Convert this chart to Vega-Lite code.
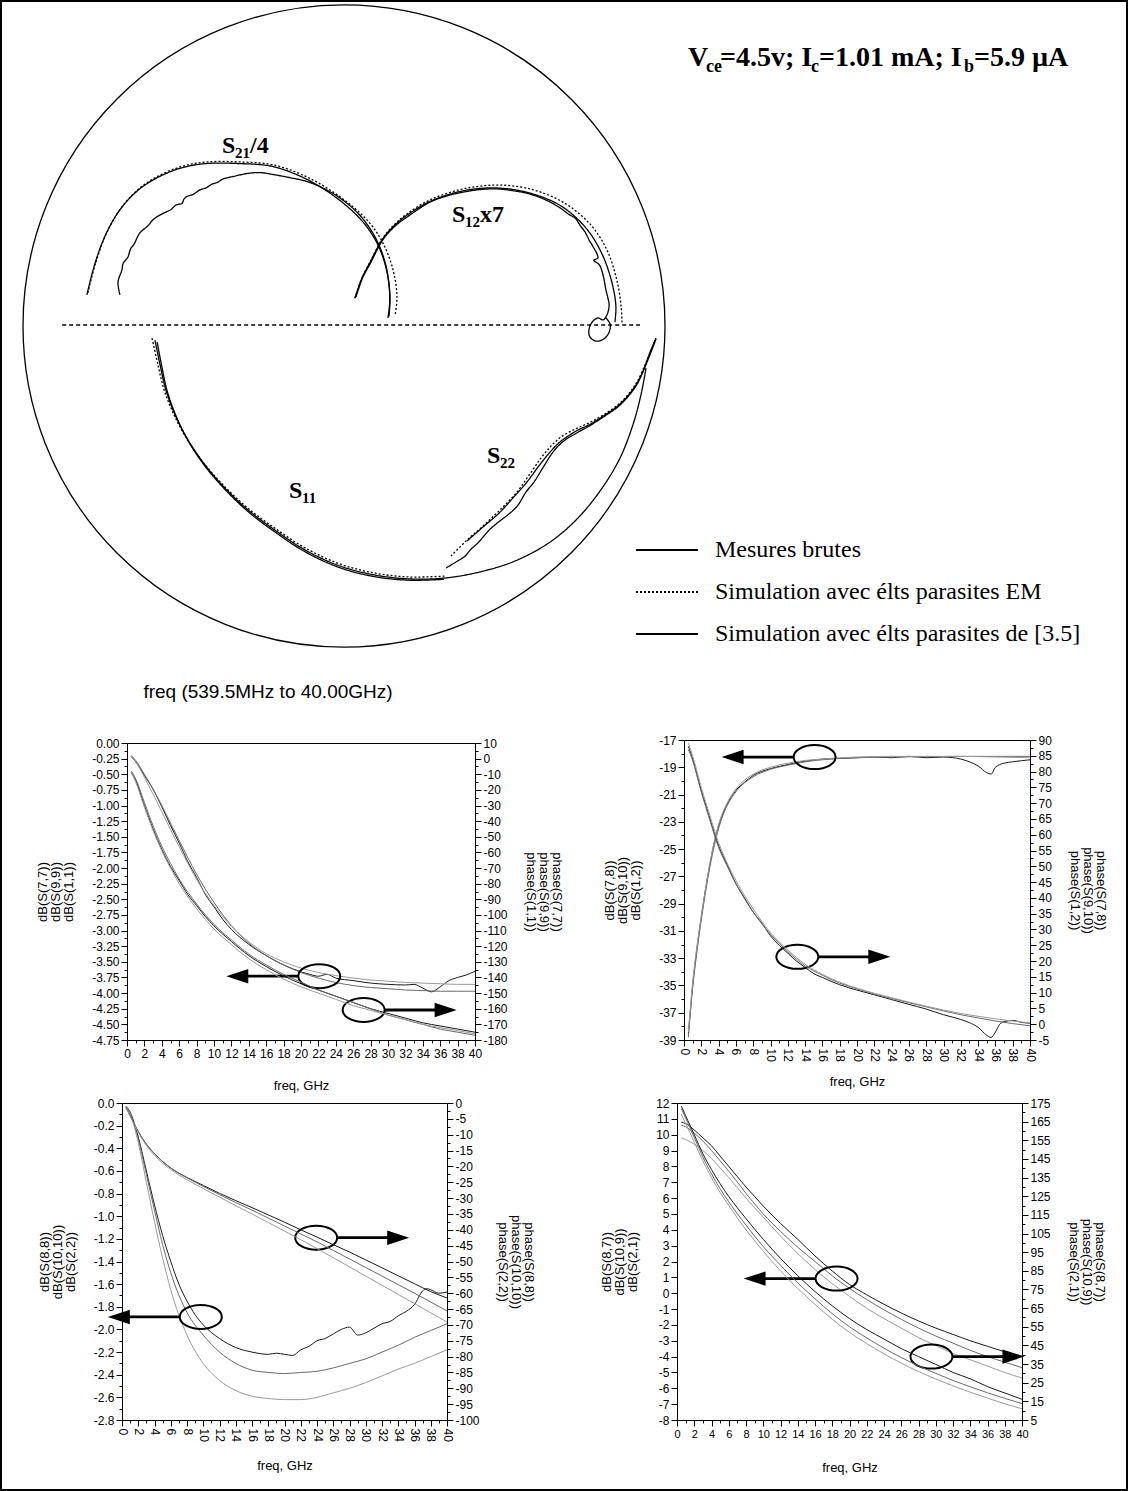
{
  "$schema": "https://vega.github.io/schema/vega-lite/v6.json",
  "width": 1128,
  "height": 1491,
  "autosize": {"type": "none"},
  "padding": 0,
  "background": "white",
  "datasets": {
    "smith": [
      {"p":"S21","t":"em","i":0,"u":-0.798,"v":0.103},{"p":"S21","t":"em","i":1,"u":-0.773,"v":0.199},{"p":"S21","t":"em","i":2,"u":-0.738,"v":0.293},{"p":"S21","t":"em","i":3,"u":-0.692,"v":0.371},{"p":"S21","t":"em","i":4,"u":-0.636,"v":0.43},{"p":"S21","t":"em","i":5,"u":-0.573,"v":0.47},{"p":"S21","t":"em","i":6,"u":-0.502,"v":0.498},{"p":"S21","t":"em","i":7,"u":-0.427,"v":0.511},{"p":"S21","t":"em","i":8,"u":-0.324,"v":0.511},{"p":"S21","t":"em","i":9,"u":-0.221,"v":0.502},{"p":"S21","t":"em","i":10,"u":-0.115,"v":0.464},{"p":"S21","t":"em","i":11,"u":-0.012,"v":0.402},{"p":"S21","t":"em","i":12,"u":0.072,"v":0.33},{"p":"S21","t":"em","i":13,"u":0.121,"v":0.259},{"p":"S21","t":"em","i":14,"u":0.153,"v":0.174},{"p":"S21","t":"em","i":15,"u":0.165,"v":0.09},{"p":"S21","t":"em","i":16,"u":0.159,"v":0.034},
      {"p":"S21","t":"ref","i":0,"u":-0.801,"v":0.097},{"p":"S21","t":"ref","i":1,"u":-0.776,"v":0.194},{"p":"S21","t":"ref","i":2,"u":-0.741,"v":0.288},{"p":"S21","t":"ref","i":3,"u":-0.695,"v":0.366},{"p":"S21","t":"ref","i":4,"u":-0.639,"v":0.425},{"p":"S21","t":"ref","i":5,"u":-0.576,"v":0.465},{"p":"S21","t":"ref","i":6,"u":-0.505,"v":0.493},{"p":"S21","t":"ref","i":7,"u":-0.43,"v":0.506},{"p":"S21","t":"ref","i":8,"u":-0.326,"v":0.506},{"p":"S21","t":"ref","i":9,"u":-0.223,"v":0.497},{"p":"S21","t":"ref","i":10,"u":-0.118,"v":0.458},{"p":"S21","t":"ref","i":11,"u":-0.019,"v":0.396},{"p":"S21","t":"ref","i":12,"u":0.059,"v":0.324},{"p":"S21","t":"ref","i":13,"u":0.106,"v":0.252},{"p":"S21","t":"ref","i":14,"u":0.134,"v":0.168},{"p":"S21","t":"ref","i":15,"u":0.143,"v":0.087},{"p":"S21","t":"ref","i":16,"u":0.137,"v":0.025},
      {"p":"S21","t":"mes","i":0,"u":-0.698,"v":0.097},{"p":"S21","t":"mes","i":1,"u":-0.704,"v":0.137},{"p":"S21","t":"mes","i":2,"u":-0.692,"v":0.174},{"p":"S21","t":"mes","i":3,"u":-0.688,"v":0.195},{"p":"S21","t":"mes","i":4,"u":-0.673,"v":0.215},{"p":"S21","t":"mes","i":5,"u":-0.665,"v":0.24},{"p":"S21","t":"mes","i":6,"u":-0.654,"v":0.255},{"p":"S21","t":"mes","i":7,"u":-0.636,"v":0.29},{"p":"S21","t":"mes","i":8,"u":-0.611,"v":0.312},{"p":"S21","t":"mes","i":9,"u":-0.596,"v":0.33},{"p":"S21","t":"mes","i":10,"u":-0.583,"v":0.34},{"p":"S21","t":"mes","i":11,"u":-0.555,"v":0.355},{"p":"S21","t":"mes","i":12,"u":-0.54,"v":0.362},{"p":"S21","t":"mes","i":13,"u":-0.523,"v":0.377},{"p":"S21","t":"mes","i":14,"u":-0.505,"v":0.382},{"p":"S21","t":"mes","i":15,"u":-0.498,"v":0.396},{"p":"S21","t":"mes","i":16,"u":-0.486,"v":0.405},{"p":"S21","t":"mes","i":17,"u":-0.47,"v":0.41},{"p":"S21","t":"mes","i":18,"u":-0.449,"v":0.424},{"p":"S21","t":"mes","i":19,"u":-0.43,"v":0.43},{"p":"S21","t":"mes","i":20,"u":-0.411,"v":0.442},{"p":"S21","t":"mes","i":21,"u":-0.395,"v":0.447},{"p":"S21","t":"mes","i":22,"u":-0.377,"v":0.458},{"p":"S21","t":"mes","i":23,"u":-0.34,"v":0.467},{"p":"S21","t":"mes","i":24,"u":-0.302,"v":0.475},{"p":"S21","t":"mes","i":25,"u":-0.262,"v":0.478},{"p":"S21","t":"mes","i":26,"u":-0.221,"v":0.472},{"p":"S21","t":"mes","i":27,"u":-0.168,"v":0.462},{"p":"S21","t":"mes","i":28,"u":-0.115,"v":0.45},{"p":"S21","t":"mes","i":29,"u":-0.06,"v":0.427},{"p":"S21","t":"mes","i":30,"u":-0.01,"v":0.397},{"p":"S21","t":"mes","i":31,"u":0.04,"v":0.355},{"p":"S21","t":"mes","i":32,"u":0.08,"v":0.305},{"p":"S21","t":"mes","i":33,"u":0.11,"v":0.25},{"p":"S21","t":"mes","i":34,"u":0.13,"v":0.19},{"p":"S21","t":"mes","i":35,"u":0.14,"v":0.13},{"p":"S21","t":"mes","i":36,"u":0.143,"v":0.075},{"p":"S21","t":"mes","i":37,"u":0.14,"v":0.03},
      {"p":"S12","t":"em","i":0,"u":0.034,"v":0.087},{"p":"S12","t":"em","i":1,"u":0.056,"v":0.15},{"p":"S12","t":"em","i":2,"u":0.081,"v":0.199},{"p":"S12","t":"em","i":3,"u":0.121,"v":0.274},{"p":"S12","t":"em","i":4,"u":0.159,"v":0.318},{"p":"S12","t":"em","i":5,"u":0.196,"v":0.349},{"p":"S12","t":"em","i":6,"u":0.268,"v":0.393},{"p":"S12","t":"em","i":7,"u":0.371,"v":0.427},{"p":"S12","t":"em","i":8,"u":0.477,"v":0.439},{"p":"S12","t":"em","i":9,"u":0.579,"v":0.427},{"p":"S12","t":"em","i":10,"u":0.682,"v":0.386},{"p":"S12","t":"em","i":11,"u":0.766,"v":0.318},{"p":"S12","t":"em","i":12,"u":0.819,"v":0.237},{"p":"S12","t":"em","i":13,"u":0.85,"v":0.143},{"p":"S12","t":"em","i":14,"u":0.863,"v":0.065},{"p":"S12","t":"em","i":15,"u":0.866,"v":0.012},
      {"p":"S12","t":"ref","i":0,"u":0.034,"v":0.087},{"p":"S12","t":"ref","i":1,"u":0.055,"v":0.147},{"p":"S12","t":"ref","i":2,"u":0.08,"v":0.196},{"p":"S12","t":"ref","i":3,"u":0.12,"v":0.27},{"p":"S12","t":"ref","i":4,"u":0.158,"v":0.314},{"p":"S12","t":"ref","i":5,"u":0.196,"v":0.345},{"p":"S12","t":"ref","i":6,"u":0.268,"v":0.388},{"p":"S12","t":"ref","i":7,"u":0.371,"v":0.421},{"p":"S12","t":"ref","i":8,"u":0.477,"v":0.43},{"p":"S12","t":"ref","i":9,"u":0.579,"v":0.414},{"p":"S12","t":"ref","i":10,"u":0.676,"v":0.374},{"p":"S12","t":"ref","i":11,"u":0.754,"v":0.305},{"p":"S12","t":"ref","i":12,"u":0.804,"v":0.224},{"p":"S12","t":"ref","i":13,"u":0.835,"v":0.134},{"p":"S12","t":"ref","i":14,"u":0.847,"v":0.062},{"p":"S12","t":"ref","i":15,"u":0.844,"v":0.012},
      {"p":"S12","t":"mes","i":0,"u":0.037,"v":0.09},{"p":"S12","t":"mes","i":1,"u":0.058,"v":0.15},{"p":"S12","t":"mes","i":2,"u":0.083,"v":0.197},{"p":"S12","t":"mes","i":3,"u":0.122,"v":0.27},{"p":"S12","t":"mes","i":4,"u":0.16,"v":0.312},{"p":"S12","t":"mes","i":5,"u":0.2,"v":0.342},{"p":"S12","t":"mes","i":6,"u":0.268,"v":0.386},{"p":"S12","t":"mes","i":7,"u":0.32,"v":0.405},{"p":"S12","t":"mes","i":8,"u":0.371,"v":0.417},{"p":"S12","t":"mes","i":9,"u":0.425,"v":0.425},{"p":"S12","t":"mes","i":10,"u":0.477,"v":0.427},{"p":"S12","t":"mes","i":11,"u":0.53,"v":0.421},{"p":"S12","t":"mes","i":12,"u":0.579,"v":0.411},{"p":"S12","t":"mes","i":13,"u":0.63,"v":0.392},{"p":"S12","t":"mes","i":14,"u":0.673,"v":0.368},{"p":"S12","t":"mes","i":15,"u":0.7,"v":0.348},{"p":"S12","t":"mes","i":16,"u":0.72,"v":0.336},{"p":"S12","t":"mes","i":17,"u":0.738,"v":0.31},{"p":"S12","t":"mes","i":18,"u":0.751,"v":0.293},{"p":"S12","t":"mes","i":19,"u":0.765,"v":0.265},{"p":"S12","t":"mes","i":20,"u":0.773,"v":0.252},{"p":"S12","t":"mes","i":21,"u":0.791,"v":0.212},{"p":"S12","t":"mes","i":22,"u":0.778,"v":0.205},{"p":"S12","t":"mes","i":23,"u":0.796,"v":0.19},{"p":"S12","t":"mes","i":24,"u":0.807,"v":0.159},{"p":"S12","t":"mes","i":25,"u":0.812,"v":0.135},{"p":"S12","t":"mes","i":26,"u":0.816,"v":0.112},{"p":"S12","t":"mes","i":27,"u":0.822,"v":0.088},{"p":"S12","t":"mes","i":28,"u":0.826,"v":0.065},{"p":"S12","t":"mes","i":29,"u":0.819,"v":0.034},{"p":"S12","t":"mes","i":30,"u":0.807,"v":0.019},{"p":"S12","t":"mes","i":31,"u":0.791,"v":0.025},{"p":"S12","t":"mes","i":32,"u":0.773,"v":0.012},{"p":"S12","t":"mes","i":33,"u":0.763,"v":-0.012},{"p":"S12","t":"mes","i":34,"u":0.766,"v":-0.034},{"p":"S12","t":"mes","i":35,"u":0.785,"v":-0.047},{"p":"S12","t":"mes","i":36,"u":0.81,"v":-0.04},{"p":"S12","t":"mes","i":37,"u":0.826,"v":-0.019},{"p":"S12","t":"mes","i":38,"u":0.829,"v":0.006},{"p":"S12","t":"mes","i":39,"u":0.816,"v":0.025},
      {"p":"S11","t":"mes","i":0,"u":-0.589,"v":-0.044},{"p":"S11","t":"mes","i":1,"u":-0.573,"v":-0.121},{"p":"S11","t":"mes","i":2,"u":-0.555,"v":-0.199},{"p":"S11","t":"mes","i":3,"u":-0.526,"v":-0.277},{"p":"S11","t":"mes","i":4,"u":-0.486,"v":-0.355},{"p":"S11","t":"mes","i":5,"u":-0.433,"v":-0.433},{"p":"S11","t":"mes","i":6,"u":-0.371,"v":-0.505},{"p":"S11","t":"mes","i":7,"u":-0.299,"v":-0.573},{"p":"S11","t":"mes","i":8,"u":-0.215,"v":-0.636},{"p":"S11","t":"mes","i":9,"u":-0.121,"v":-0.698},{"p":"S11","t":"mes","i":10,"u":-0.012,"v":-0.748},{"p":"S11","t":"mes","i":11,"u":0.097,"v":-0.776},{"p":"S11","t":"mes","i":12,"u":0.206,"v":-0.788},{"p":"S11","t":"mes","i":13,"u":0.315,"v":-0.785},{"p":"S11","t":"mes","i":14,"u":0.424,"v":-0.766},{"p":"S11","t":"mes","i":15,"u":0.533,"v":-0.732},{"p":"S11","t":"mes","i":16,"u":0.642,"v":-0.673},{"p":"S11","t":"mes","i":17,"u":0.729,"v":-0.598},{"p":"S11","t":"mes","i":18,"u":0.804,"v":-0.505},{"p":"S11","t":"mes","i":19,"u":0.86,"v":-0.411},{"p":"S11","t":"mes","i":20,"u":0.9,"v":-0.308},{"p":"S11","t":"mes","i":21,"u":0.925,"v":-0.215},{"p":"S11","t":"mes","i":22,"u":0.941,"v":-0.131},
      {"p":"S11","t":"em","i":0,"u":-0.598,"v":-0.038},{"p":"S11","t":"em","i":1,"u":-0.58,"v":-0.119},{"p":"S11","t":"em","i":2,"u":-0.561,"v":-0.197},{"p":"S11","t":"em","i":3,"u":-0.531,"v":-0.274},{"p":"S11","t":"em","i":4,"u":-0.49,"v":-0.351},{"p":"S11","t":"em","i":5,"u":-0.436,"v":-0.428},{"p":"S11","t":"em","i":6,"u":-0.373,"v":-0.499},{"p":"S11","t":"em","i":7,"u":-0.3,"v":-0.567},{"p":"S11","t":"em","i":8,"u":-0.215,"v":-0.63},{"p":"S11","t":"em","i":9,"u":-0.12,"v":-0.692},{"p":"S11","t":"em","i":10,"u":-0.011,"v":-0.742},{"p":"S11","t":"em","i":11,"u":0.097,"v":-0.77},{"p":"S11","t":"em","i":12,"u":0.205,"v":-0.782},{"p":"S11","t":"em","i":13,"u":0.313,"v":-0.779},
      {"p":"S11","t":"ref","i":0,"u":-0.582,"v":-0.05},{"p":"S11","t":"ref","i":1,"u":-0.568,"v":-0.124},{"p":"S11","t":"ref","i":2,"u":-0.551,"v":-0.202},{"p":"S11","t":"ref","i":3,"u":-0.523,"v":-0.281},{"p":"S11","t":"ref","i":4,"u":-0.484,"v":-0.36},{"p":"S11","t":"ref","i":5,"u":-0.432,"v":-0.438},{"p":"S11","t":"ref","i":6,"u":-0.37,"v":-0.51},{"p":"S11","t":"ref","i":7,"u":-0.299,"v":-0.578},{"p":"S11","t":"ref","i":8,"u":-0.216,"v":-0.641},{"p":"S11","t":"ref","i":9,"u":-0.122,"v":-0.703},{"p":"S11","t":"ref","i":10,"u":-0.013,"v":-0.753},{"p":"S11","t":"ref","i":11,"u":0.096,"v":-0.781},{"p":"S11","t":"ref","i":12,"u":0.205,"v":-0.792},{"p":"S11","t":"ref","i":13,"u":0.312,"v":-0.789},
      {"p":"S22","t":"em","i":0,"u":0.333,"v":-0.717},{"p":"S22","t":"em","i":1,"u":0.38,"v":-0.67},{"p":"S22","t":"em","i":2,"u":0.43,"v":-0.626},{"p":"S22","t":"em","i":3,"u":0.486,"v":-0.573},{"p":"S22","t":"em","i":4,"u":0.539,"v":-0.517},{"p":"S22","t":"em","i":5,"u":0.579,"v":-0.461},{"p":"S22","t":"em","i":6,"u":0.614,"v":-0.411},{"p":"S22","t":"em","i":7,"u":0.645,"v":-0.374},{"p":"S22","t":"em","i":8,"u":0.676,"v":-0.346},{"p":"S22","t":"em","i":9,"u":0.72,"v":-0.321},{"p":"S22","t":"em","i":10,"u":0.763,"v":-0.302},{"p":"S22","t":"em","i":11,"u":0.813,"v":-0.274},{"p":"S22","t":"em","i":12,"u":0.86,"v":-0.24},{"p":"S22","t":"em","i":13,"u":0.891,"v":-0.206},{"p":"S22","t":"em","i":14,"u":0.913,"v":-0.174},{"p":"S22","t":"em","i":15,"u":0.938,"v":-0.121},{"p":"S22","t":"em","i":16,"u":0.96,"v":-0.069},{"p":"S22","t":"em","i":17,"u":0.972,"v":-0.037},
      {"p":"S22","t":"ref","i":0,"u":0.383,"v":-0.67},{"p":"S22","t":"ref","i":1,"u":0.433,"v":-0.626},{"p":"S22","t":"ref","i":2,"u":0.483,"v":-0.583},{"p":"S22","t":"ref","i":3,"u":0.526,"v":-0.536},{"p":"S22","t":"ref","i":4,"u":0.57,"v":-0.486},{"p":"S22","t":"ref","i":5,"u":0.607,"v":-0.436},{"p":"S22","t":"ref","i":6,"u":0.645,"v":-0.389},{"p":"S22","t":"ref","i":7,"u":0.673,"v":-0.361},{"p":"S22","t":"ref","i":8,"u":0.698,"v":-0.343},{"p":"S22","t":"ref","i":9,"u":0.729,"v":-0.324},{"p":"S22","t":"ref","i":10,"u":0.763,"v":-0.308},{"p":"S22","t":"ref","i":11,"u":0.813,"v":-0.277},{"p":"S22","t":"ref","i":12,"u":0.86,"v":-0.243},{"p":"S22","t":"ref","i":13,"u":0.913,"v":-0.178},{"p":"S22","t":"ref","i":14,"u":0.96,"v":-0.072},{"p":"S22","t":"ref","i":15,"u":0.972,"v":-0.04},
      {"p":"S22","t":"mes","i":0,"u":0.318,"v":-0.754},{"p":"S22","t":"mes","i":1,"u":0.349,"v":-0.735},{"p":"S22","t":"mes","i":2,"u":0.377,"v":-0.717},{"p":"S22","t":"mes","i":3,"u":0.393,"v":-0.698},{"p":"S22","t":"mes","i":4,"u":0.417,"v":-0.676},{"p":"S22","t":"mes","i":5,"u":0.452,"v":-0.636},{"p":"S22","t":"mes","i":6,"u":0.477,"v":-0.614},{"p":"S22","t":"mes","i":7,"u":0.517,"v":-0.583},{"p":"S22","t":"mes","i":8,"u":0.542,"v":-0.558},{"p":"S22","t":"mes","i":9,"u":0.567,"v":-0.517},{"p":"S22","t":"mes","i":10,"u":0.592,"v":-0.486},{"p":"S22","t":"mes","i":11,"u":0.623,"v":-0.436},{"p":"S22","t":"mes","i":12,"u":0.654,"v":-0.389},{"p":"S22","t":"mes","i":13,"u":0.685,"v":-0.358},{"p":"S22","t":"mes","i":14,"u":0.72,"v":-0.336},{"p":"S22","t":"mes","i":15,"u":0.763,"v":-0.312},{"p":"S22","t":"mes","i":16,"u":0.813,"v":-0.28},{"p":"S22","t":"mes","i":17,"u":0.86,"v":-0.246},{"p":"S22","t":"mes","i":18,"u":0.913,"v":-0.181},{"p":"S22","t":"mes","i":19,"u":0.956,"v":-0.075},{"p":"S22","t":"mes","i":20,"u":0.969,"v":-0.044}
    ],
    "txt": [
      {"k":"tm","s":"V","u":1.0717,"v":0.81},
      {"k":"ts","s":"ce","u":1.1277,"v":0.81},
      {"k":"tm","s":"=4.5v; I","u":1.1713,"v":0.81},
      {"k":"ts","s":"c","u":1.4548,"v":0.81},
      {"k":"tm","s":"=1.01 mA; I","u":1.4798,"v":0.81},
      {"k":"ts","s":"b","u":1.9315,"v":0.81},
      {"k":"tm","s":"=5.9 µA","u":1.9626,"v":0.81},
      {"k":"lm","s":"S","u":-0.3801,"v":0.5389},
      {"k":"ls","s":"21","u":-0.3396,"v":0.5389},
      {"k":"lm","s":"/4","u":-0.2928,"v":0.5389},
      {"k":"lm","s":"S","u":0.3364,"v":0.324},
      {"k":"ls","s":"12","u":0.3769,"v":0.324},
      {"k":"lm","s":"x7","u":0.4237,"v":0.324},
      {"k":"lm","s":"S","u":0.4455,"v":-0.4268},
      {"k":"ls","s":"22","u":0.486,"v":-0.4268},
      {"k":"lm","s":"S","u":-0.1713,"v":-0.536},
      {"k":"ls","s":"11","u":-0.1308,"v":-0.536},
      {"k":"fq","s":"freq (539.5MHz to 40.00GHz)","u":-0.2368,"v":-1.1589}
    ],
    "ann": [
      {"n":1,"f":22.1,"y":-3.73,"d":"L"},
      {"n":1,"f":27.2,"y":-4.27,"d":"R"},
      {"n":2,"f":15.1,"y":-18.25,"d":"L"},
      {"n":2,"f":13.1,"y":-32.9,"d":"R"},
      {"n":3,"f":23.9,"y":-1.19,"d":"R"},
      {"n":3,"f":9.7,"y":-1.89,"d":"L"},
      {"n":4,"f":18.5,"y":0.92,"d":"L"},
      {"n":4,"f":29.5,"y":-4.0,"d":"R"}
    ],
    "pan": [
      {"n":1,"q":"db","f":0.5,"mes":-0.22,"em":-0.2,"ref":-0.21},
      {"n":1,"q":"db","f":1,"mes":-0.3,"em":-0.28,"ref":-0.3},
      {"n":1,"q":"db","f":2,"mes":-0.52,"em":-0.5,"ref":-0.55},
      {"n":1,"q":"db","f":3,"mes":-0.74,"em":-0.74,"ref":-0.82},
      {"n":1,"q":"db","f":4,"mes":-1.02,"em":-1.0,"ref":-1.1},
      {"n":1,"q":"db","f":5,"mes":-1.32,"em":-1.28,"ref":-1.38},
      {"n":1,"q":"db","f":6,"mes":-1.6,"em":-1.56,"ref":-1.66},
      {"n":1,"q":"db","f":7,"mes":-1.9},
      {"n":1,"q":"db","f":8,"mes":-2.15,"em":-2.1,"ref":-2.18},
      {"n":1,"q":"db","f":9,"mes":-2.42},
      {"n":1,"q":"db","f":10,"mes":-2.62,"em":-2.55,"ref":-2.6},
      {"n":1,"q":"db","f":11,"mes":-2.82},
      {"n":1,"q":"db","f":12,"mes":-2.98,"em":-2.92,"ref":-2.93},
      {"n":1,"q":"db","f":14,"mes":-3.22,"em":-3.2,"ref":-3.18},
      {"n":1,"q":"db","f":16,"mes":-3.4,"em":-3.4,"ref":-3.37},
      {"n":1,"q":"db","f":18,"mes":-3.55,"em":-3.55,"ref":-3.5},
      {"n":1,"q":"db","f":20,"mes":-3.66,"em":-3.67,"ref":-3.6},
      {"n":1,"q":"db","f":21,"mes":-3.7},
      {"n":1,"q":"db","f":22,"mes":-3.73,"em":-3.76,"ref":-3.67},
      {"n":1,"q":"db","f":23,"mes":-3.7},
      {"n":1,"q":"db","f":24,"mes":-3.76,"em":-3.83,"ref":-3.72},
      {"n":1,"q":"db","f":26,"mes":-3.8,"em":-3.88,"ref":-3.76},
      {"n":1,"q":"db","f":28,"mes":-3.84,"em":-3.91,"ref":-3.79},
      {"n":1,"q":"db","f":30,"mes":-3.86,"em":-3.93,"ref":-3.81},
      {"n":1,"q":"db","f":32,"mes":-3.87,"em":-3.95,"ref":-3.83},
      {"n":1,"q":"db","f":33,"mes":-3.86},
      {"n":1,"q":"db","f":34,"mes":-3.92,"em":-3.96,"ref":-3.84},
      {"n":1,"q":"db","f":35,"mes":-3.98},
      {"n":1,"q":"db","f":36,"mes":-3.9,"em":-3.97,"ref":-3.85},
      {"n":1,"q":"db","f":37,"mes":-3.8},
      {"n":1,"q":"db","f":38,"mes":-3.75,"em":-3.97,"ref":-3.86},
      {"n":1,"q":"db","f":39,"mes":-3.71},
      {"n":1,"q":"db","f":40,"mes":-3.65,"em":-3.97,"ref":-3.86},
      {"n":1,"q":"ph","f":0.5,"mes":-9,"em":-8,"ref":-9},
      {"n":1,"q":"ph","f":1,"mes":-14,"em":-13,"ref":-15},
      {"n":1,"q":"ph","f":2,"mes":-30,"em":-28,"ref":-31},
      {"n":1,"q":"ph","f":3,"mes":-45,"em":-43,"ref":-46},
      {"n":1,"q":"ph","f":4,"mes":-58,"em":-56,"ref":-59},
      {"n":1,"q":"ph","f":5,"mes":-69,"em":-67,"ref":-70},
      {"n":1,"q":"ph","f":6,"mes":-78,"em":-77,"ref":-80},
      {"n":1,"q":"ph","f":7,"mes":-87},
      {"n":1,"q":"ph","f":8,"mes":-94,"em":-93,"ref":-96},
      {"n":1,"q":"ph","f":9,"mes":-101},
      {"n":1,"q":"ph","f":10,"mes":-107,"em":-106,"ref":-109},
      {"n":1,"q":"ph","f":12,"mes":-117,"em":-116,"ref":-119},
      {"n":1,"q":"ph","f":14,"mes":-126,"em":-125,"ref":-128},
      {"n":1,"q":"ph","f":16,"mes":-133,"em":-132,"ref":-135},
      {"n":1,"q":"ph","f":18,"mes":-139,"em":-138,"ref":-141},
      {"n":1,"q":"ph","f":20,"mes":-144,"em":-143,"ref":-146},
      {"n":1,"q":"ph","f":22,"mes":-148,"em":-148,"ref":-150},
      {"n":1,"q":"ph","f":24,"mes":-152,"em":-152,"ref":-154},
      {"n":1,"q":"ph","f":26,"mes":-156,"em":-156,"ref":-158},
      {"n":1,"q":"ph","f":28,"mes":-160,"em":-160,"ref":-161},
      {"n":1,"q":"ph","f":30,"mes":-163,"em":-164,"ref":-164},
      {"n":1,"q":"ph","f":32,"mes":-166,"em":-167,"ref":-167},
      {"n":1,"q":"ph","f":34,"mes":-169,"em":-170,"ref":-170},
      {"n":1,"q":"ph","f":36,"mes":-171,"em":-173,"ref":-172},
      {"n":1,"q":"ph","f":38,"mes":-173,"em":-175,"ref":-174},
      {"n":1,"q":"ph","f":40,"mes":-175,"em":-177,"ref":-176},
      {"n":2,"q":"db","f":0.5,"mes":-38.6,"em":-38.8,"ref":-38.4},
      {"n":2,"q":"db","f":0.8,"mes":-36.4},
      {"n":2,"q":"db","f":1,"mes":-35.0,"em":-35.2,"ref":-34.8},
      {"n":2,"q":"db","f":1.5,"mes":-32.3,"em":-32.5,"ref":-32.1},
      {"n":2,"q":"db","f":2,"mes":-30.0,"em":-30.2,"ref":-29.9},
      {"n":2,"q":"db","f":2.5,"mes":-27.9},
      {"n":2,"q":"db","f":3,"mes":-26.1,"em":-26.3,"ref":-26.0},
      {"n":2,"q":"db","f":3.5,"mes":-24.5},
      {"n":2,"q":"db","f":4,"mes":-23.3,"em":-23.5,"ref":-23.2},
      {"n":2,"q":"db","f":5,"mes":-21.7,"em":-21.8,"ref":-21.6},
      {"n":2,"q":"db","f":6,"mes":-20.7,"em":-20.8,"ref":-20.6},
      {"n":2,"q":"db","f":7,"mes":-20.1},
      {"n":2,"q":"db","f":8,"mes":-19.6,"em":-19.7,"ref":-19.5},
      {"n":2,"q":"db","f":10,"mes":-19.1,"em":-19.15,"ref":-19.0},
      {"n":2,"q":"db","f":12,"mes":-18.8,"em":-18.85,"ref":-18.7},
      {"n":2,"q":"db","f":14,"mes":-18.55,"em":-18.6,"ref":-18.5},
      {"n":2,"q":"db","f":16,"mes":-18.4,"em":-18.45,"ref":-18.4},
      {"n":2,"q":"db","f":18,"mes":-18.35,"em":-18.35,"ref":-18.3},
      {"n":2,"q":"db","f":20,"mes":-18.3,"em":-18.3,"ref":-18.25},
      {"n":2,"q":"db","f":22,"mes":-18.25},
      {"n":2,"q":"db","f":24,"mes":-18.3,"em":-18.25,"ref":-18.2},
      {"n":2,"q":"db","f":26,"mes":-18.2},
      {"n":2,"q":"db","f":28,"mes":-18.3,"em":-18.22,"ref":-18.2},
      {"n":2,"q":"db","f":30,"mes":-18.25},
      {"n":2,"q":"db","f":32,"mes":-18.4,"em":-18.2,"ref":-18.2},
      {"n":2,"q":"db","f":33,"mes":-18.6},
      {"n":2,"q":"db","f":34,"mes":-18.9},
      {"n":2,"q":"db","f":35,"mes":-19.4},
      {"n":2,"q":"db","f":35.5,"mes":-19.5},
      {"n":2,"q":"db","f":36,"mes":-19.0,"em":-18.2,"ref":-18.25},
      {"n":2,"q":"db","f":37,"mes":-18.7},
      {"n":2,"q":"db","f":38,"mes":-18.6},
      {"n":2,"q":"db","f":40,"mes":-18.45,"em":-18.2,"ref":-18.3},
      {"n":2,"q":"ph","f":0.5,"mes":88,"em":87,"ref":89},
      {"n":2,"q":"ph","f":1,"mes":84,"em":83.5,"ref":85},
      {"n":2,"q":"ph","f":1.5,"mes":79},
      {"n":2,"q":"ph","f":2,"mes":74,"em":73.5,"ref":75},
      {"n":2,"q":"ph","f":2.5,"mes":69.5},
      {"n":2,"q":"ph","f":3,"mes":65,"em":64.5,"ref":66},
      {"n":2,"q":"ph","f":3.5,"mes":60.5},
      {"n":2,"q":"ph","f":4,"mes":56.5,"em":56,"ref":57.5},
      {"n":2,"q":"ph","f":5,"mes":50.5,"em":50,"ref":51},
      {"n":2,"q":"ph","f":6,"mes":44.5,"em":44.5,"ref":45.5},
      {"n":2,"q":"ph","f":7,"mes":40},
      {"n":2,"q":"ph","f":8,"mes":35.5,"em":35.5,"ref":36.5},
      {"n":2,"q":"ph","f":9,"mes":32},
      {"n":2,"q":"ph","f":10,"mes":28,"em":28.5,"ref":29},
      {"n":2,"q":"ph","f":11,"mes":25},
      {"n":2,"q":"ph","f":12,"mes":22.5,"em":23,"ref":23.5},
      {"n":2,"q":"ph","f":13,"mes":20},
      {"n":2,"q":"ph","f":14,"mes":18,"em":18.5,"ref":19},
      {"n":2,"q":"ph","f":15,"mes":16},
      {"n":2,"q":"ph","f":16,"mes":14.8,"em":15.5,"ref":15.8},
      {"n":2,"q":"ph","f":18,"mes":12.5,"em":13,"ref":13.3},
      {"n":2,"q":"ph","f":20,"mes":10.8,"em":11.2,"ref":11.4},
      {"n":2,"q":"ph","f":22,"mes":9.3,"em":9.6,"ref":9.8},
      {"n":2,"q":"ph","f":24,"mes":7.8,"em":8.2,"ref":8.4},
      {"n":2,"q":"ph","f":26,"mes":6.3,"em":6.8,"ref":7.0},
      {"n":2,"q":"ph","f":28,"mes":4.8,"em":5.5,"ref":5.7},
      {"n":2,"q":"ph","f":30,"mes":3,"em":4.2,"ref":4.5},
      {"n":2,"q":"ph","f":32,"mes":1.5,"em":3.0,"ref":3.4},
      {"n":2,"q":"ph","f":33,"mes":0.5},
      {"n":2,"q":"ph","f":34,"mes":-1,"em":2.0,"ref":2.5},
      {"n":2,"q":"ph","f":35,"mes":-3.5},
      {"n":2,"q":"ph","f":35.5,"mes":-4.2},
      {"n":2,"q":"ph","f":36,"mes":-2.5,"em":1.0,"ref":1.7},
      {"n":2,"q":"ph","f":36.5,"mes":0},
      {"n":2,"q":"ph","f":37,"mes":0.8},
      {"n":2,"q":"ph","f":38,"mes":1.2,"em":0.2,"ref":1.0},
      {"n":2,"q":"ph","f":39,"mes":0.6},
      {"n":2,"q":"ph","f":40,"mes":0.3,"em":-0.5,"ref":0.4},
      {"n":3,"q":"db","f":0.5,"mes":-0.03,"em":-0.03,"ref":-0.04},
      {"n":3,"q":"db","f":1,"mes":-0.08,"em":-0.09,"ref":-0.1},
      {"n":3,"q":"db","f":2,"mes":-0.3,"em":-0.32,"ref":-0.35},
      {"n":3,"q":"db","f":3,"mes":-0.6,"em":-0.63,"ref":-0.7},
      {"n":3,"q":"db","f":4,"mes":-0.9,"em":-0.95,"ref":-1.05},
      {"n":3,"q":"db","f":5,"mes":-1.17,"em":-1.25,"ref":-1.37},
      {"n":3,"q":"db","f":6,"mes":-1.4,"em":-1.5,"ref":-1.65},
      {"n":3,"q":"db","f":7,"mes":-1.6},
      {"n":3,"q":"db","f":8,"mes":-1.75,"em":-1.85,"ref":-2.05},
      {"n":3,"q":"db","f":9,"mes":-1.87},
      {"n":3,"q":"db","f":10,"mes":-1.96,"em":-2.05,"ref":-2.3},
      {"n":3,"q":"db","f":12,"mes":-2.08,"em":-2.2,"ref":-2.45},
      {"n":3,"q":"db","f":14,"mes":-2.16,"em":-2.3,"ref":-2.54},
      {"n":3,"q":"db","f":16,"mes":-2.2,"em":-2.36,"ref":-2.59},
      {"n":3,"q":"db","f":18,"mes":-2.22,"em":-2.38,"ref":-2.61},
      {"n":3,"q":"db","f":19,"mes":-2.21},
      {"n":3,"q":"db","f":20,"mes":-2.22,"em":-2.39,"ref":-2.62},
      {"n":3,"q":"db","f":21,"mes":-2.23},
      {"n":3,"q":"db","f":22,"mes":-2.18,"em":-2.38,"ref":-2.62},
      {"n":3,"q":"db","f":23,"mes":-2.15},
      {"n":3,"q":"db","f":24,"mes":-2.1,"em":-2.37,"ref":-2.6},
      {"n":3,"q":"db","f":25,"mes":-2.08},
      {"n":3,"q":"db","f":26,"mes":-2.04,"em":-2.34,"ref":-2.56},
      {"n":3,"q":"db","f":27,"mes":-2.0},
      {"n":3,"q":"db","f":28,"mes":-1.98,"em":-2.3,"ref":-2.52},
      {"n":3,"q":"db","f":29,"mes":-2.05},
      {"n":3,"q":"db","f":30,"mes":-2.03,"em":-2.26,"ref":-2.47},
      {"n":3,"q":"db","f":31,"mes":-1.99},
      {"n":3,"q":"db","f":32,"mes":-1.95,"em":-2.2,"ref":-2.41},
      {"n":3,"q":"db","f":33,"mes":-1.93},
      {"n":3,"q":"db","f":34,"mes":-1.88,"em":-2.14,"ref":-2.35},
      {"n":3,"q":"db","f":35,"mes":-1.84},
      {"n":3,"q":"db","f":36,"mes":-1.78,"em":-2.07,"ref":-2.3},
      {"n":3,"q":"db","f":37,"mes":-1.66},
      {"n":3,"q":"db","f":37.5,"mes":-1.64},
      {"n":3,"q":"db","f":38,"mes":-1.65,"em":-2.01,"ref":-2.24},
      {"n":3,"q":"db","f":39,"mes":-1.68},
      {"n":3,"q":"db","f":40,"mes":-1.67,"em":-1.95,"ref":-2.18},
      {"n":3,"q":"ph","f":0.5,"mes":-1.5,"em":-1.5,"ref":-1.6},
      {"n":3,"q":"ph","f":1,"mes":-4,"em":-4,"ref":-4.2},
      {"n":3,"q":"ph","f":2,"mes":-9,"em":-9,"ref":-9.3},
      {"n":3,"q":"ph","f":3,"mes":-13,"em":-13,"ref":-13.4},
      {"n":3,"q":"ph","f":4,"mes":-16,"em":-16,"ref":-16.5},
      {"n":3,"q":"ph","f":6,"mes":-20.5,"em":-20.5,"ref":-21},
      {"n":3,"q":"ph","f":8,"mes":-23.5,"em":-23.6,"ref":-24.2},
      {"n":3,"q":"ph","f":10,"mes":-26,"em":-26.3,"ref":-27},
      {"n":3,"q":"ph","f":12,"mes":-28.5,"em":-28.9,"ref":-29.7},
      {"n":3,"q":"ph","f":14,"mes":-30.8,"em":-31.4,"ref":-32.4},
      {"n":3,"q":"ph","f":16,"mes":-33,"em":-33.8,"ref":-35},
      {"n":3,"q":"ph","f":18,"mes":-35.3,"em":-36.3,"ref":-37.7},
      {"n":3,"q":"ph","f":20,"mes":-37.6,"em":-38.8,"ref":-40.4},
      {"n":3,"q":"ph","f":22,"mes":-40,"em":-41.3,"ref":-43.1},
      {"n":3,"q":"ph","f":24,"mes":-42.3,"em":-43.8,"ref":-45.9},
      {"n":3,"q":"ph","f":26,"mes":-44.7,"em":-46.5,"ref":-48.8},
      {"n":3,"q":"ph","f":28,"mes":-47,"em":-49.2,"ref":-51.7},
      {"n":3,"q":"ph","f":30,"mes":-49.5,"em":-51.9,"ref":-54.6},
      {"n":3,"q":"ph","f":32,"mes":-52,"em":-54.6,"ref":-57.5},
      {"n":3,"q":"ph","f":34,"mes":-54.5,"em":-57.3,"ref":-60.4},
      {"n":3,"q":"ph","f":36,"mes":-57,"em":-60,"ref":-63.3},
      {"n":3,"q":"ph","f":38,"mes":-59.5,"em":-62.8,"ref":-66.2},
      {"n":3,"q":"ph","f":40,"mes":-61.5,"em":-65.6,"ref":-69.1},
      {"n":4,"q":"db","f":0.5,"mes":10.8,"em":10.6,"ref":9.8},
      {"n":4,"q":"db","f":1,"mes":10.7,"em":10.5,"ref":9.7},
      {"n":4,"q":"db","f":2,"mes":10.3,"em":10.1,"ref":9.4},
      {"n":4,"q":"db","f":3,"mes":9.8,"em":9.6,"ref":9.0},
      {"n":4,"q":"db","f":4,"mes":9.3,"em":9.0,"ref":8.5},
      {"n":4,"q":"db","f":5,"mes":8.65,"em":8.35,"ref":7.9},
      {"n":4,"q":"db","f":6,"mes":8.0,"em":7.7,"ref":7.3},
      {"n":4,"q":"db","f":7,"mes":7.35},
      {"n":4,"q":"db","f":8,"mes":6.7,"em":6.3,"ref":6.0},
      {"n":4,"q":"db","f":9,"mes":6.1},
      {"n":4,"q":"db","f":10,"mes":5.5,"em":5.0,"ref":4.8},
      {"n":4,"q":"db","f":12,"mes":4.4,"em":3.9,"ref":3.6},
      {"n":4,"q":"db","f":14,"mes":3.4,"em":2.9,"ref":2.5},
      {"n":4,"q":"db","f":16,"mes":2.35,"em":2.0,"ref":1.5},
      {"n":4,"q":"db","f":18,"mes":1.4,"em":1.1,"ref":0.6},
      {"n":4,"q":"db","f":20,"mes":0.55,"em":0.3,"ref":-0.2},
      {"n":4,"q":"db","f":22,"mes":-0.1,"em":-0.4,"ref":-0.95},
      {"n":4,"q":"db","f":24,"mes":-0.7,"em":-1.05,"ref":-1.6},
      {"n":4,"q":"db","f":26,"mes":-1.25,"em":-1.65,"ref":-2.2},
      {"n":4,"q":"db","f":28,"mes":-1.75,"em":-2.2,"ref":-2.8},
      {"n":4,"q":"db","f":30,"mes":-2.2,"em":-2.7,"ref":-3.3},
      {"n":4,"q":"db","f":32,"mes":-2.6,"em":-3.15,"ref":-3.8},
      {"n":4,"q":"db","f":34,"mes":-3.0,"em":-3.6,"ref":-4.2},
      {"n":4,"q":"db","f":36,"mes":-3.35,"em":-4.0,"ref":-4.6},
      {"n":4,"q":"db","f":38,"mes":-3.7,"em":-4.35,"ref":-5.0},
      {"n":4,"q":"db","f":40,"mes":-4.0,"em":-4.7,"ref":-5.35},
      {"n":4,"q":"ph","f":0.5,"mes":173.3,"em":172,"ref":169},
      {"n":4,"q":"ph","f":1,"mes":168.2,"em":167,"ref":164},
      {"n":4,"q":"ph","f":2,"mes":158,"em":156.5,"ref":154},
      {"n":4,"q":"ph","f":3,"mes":147.8,"em":146,"ref":144},
      {"n":4,"q":"ph","f":4,"mes":139.3,"em":137,"ref":135},
      {"n":4,"q":"ph","f":5,"mes":131.7,"em":129,"ref":127},
      {"n":4,"q":"ph","f":6,"mes":124.9,"em":122,"ref":120},
      {"n":4,"q":"ph","f":8,"mes":113,"em":109.5,"ref":107},
      {"n":4,"q":"ph","f":10,"mes":101.9,"em":98,"ref":95.5},
      {"n":4,"q":"ph","f":12,"mes":91.7,"em":88,"ref":85},
      {"n":4,"q":"ph","f":14,"mes":82.4,"em":78.5,"ref":75.5},
      {"n":4,"q":"ph","f":16,"mes":73.9,"em":70,"ref":67},
      {"n":4,"q":"ph","f":18,"mes":66.2,"em":62,"ref":59},
      {"n":4,"q":"ph","f":20,"mes":59.4,"em":55,"ref":52},
      {"n":4,"q":"ph","f":22,"mes":53.5,"em":49,"ref":46},
      {"n":4,"q":"ph","f":24,"mes":48.4,"em":43.5,"ref":40.5},
      {"n":4,"q":"ph","f":26,"mes":43.3,"em":38.5,"ref":35.5},
      {"n":4,"q":"ph","f":28,"mes":39,"em":34,"ref":31},
      {"n":4,"q":"ph","f":30,"mes":34.8,"em":30,"ref":27},
      {"n":4,"q":"ph","f":32,"mes":30.5,"em":26.2,"ref":23.3},
      {"n":4,"q":"ph","f":34,"mes":27.1,"em":22.8,"ref":19.9},
      {"n":4,"q":"ph","f":36,"mes":22.9,"em":19.6,"ref":16.7},
      {"n":4,"q":"ph","f":38,"mes":19.5,"em":16.6,"ref":13.7},
      {"n":4,"q":"ph","f":40,"mes":16.1,"em":13.8,"ref":11}
    ]
  },
  "layer": [
    {
      "encoding": {
        "x": {"field": "u", "type": "quantitative", "scale": {"domain": [-1, 1], "range": [23, 665], "nice": false, "zero": false}, "axis": null},
        "y": {"field": "v", "type": "quantitative", "scale": {"domain": [-1, 1], "range": [647, 5], "nice": false, "zero": false}, "axis": null}
      },
      "layer": [
        {
          "data": {"values": [{"u": 0, "v": 0}]},
          "mark": {"type": "point", "shape": "circle", "size": 412164, "filled": false, "stroke": "black", "strokeWidth": 1.3, "opacity": 1}
        },
        {
          "data": {"values": [{"u": -0.878, "u2": 0.922, "v": 0.003}]},
          "mark": {"type": "rule", "color": "black", "strokeWidth": 1.5, "strokeDash": [4, 3]},
          "encoding": {"x2": {"field": "u2"}}
        },
        {
          "data": {"name": "smith"},
          "mark": {"type": "line", "color": "black", "strokeWidth": 1.3, "interpolate": "catmull-rom"},
          "encoding": {
            "detail": {"field": "p"},
            "order": {"field": "i", "type": "quantitative"},
            "strokeDash": {
              "field": "t", "type": "nominal",
              "scale": {"domain": ["mes", "em", "ref"], "range": [[1, 0], [2, 2], [1, 0]]},
              "legend": {
                "orient": "none", "legendX": 686, "legendY": 538, "title": null, "padding": 0,
                "symbolType": "M-6.2,0H0", "symbolSize": 400, "symbolStrokeWidth": 2.2, "symbolStrokeColor": "black",
                "labelFont": "Liberation Serif", "labelFontSize": 24, "labelColor": "black", "labelLimit": 600, "labelOffset": 5, "rowPadding": 18,
                "labelExpr": "datum.value == 'mes' ? 'Mesures brutes' : datum.value == 'em' ? 'Simulation avec élts parasites EM' : 'Simulation avec élts parasites de [3.5]'"
              }
            }
          }
        },
        {
          "data": {"name": "txt"},
          "transform": [{"filter": "datum.k == 'tm'"}],
          "mark": {"type": "text", "font": "Liberation Serif", "fontWeight": "bold", "fontSize": 28, "align": "left", "baseline": "alphabetic", "color": "black"},
          "encoding": {"text": {"field": "s"}}
        },
        {
          "data": {"name": "txt"},
          "transform": [{"filter": "datum.k == 'ts'"}],
          "mark": {"type": "text", "font": "Liberation Serif", "fontWeight": "bold", "fontSize": 18, "dy": 6, "align": "left", "baseline": "alphabetic", "color": "black"},
          "encoding": {"text": {"field": "s"}}
        },
        {
          "data": {"name": "txt"},
          "transform": [{"filter": "datum.k == 'lm'"}],
          "mark": {"type": "text", "font": "Liberation Serif", "fontWeight": "bold", "fontSize": 24, "align": "left", "baseline": "alphabetic", "color": "black"},
          "encoding": {"text": {"field": "s"}}
        },
        {
          "data": {"name": "txt"},
          "transform": [{"filter": "datum.k == 'ls'"}],
          "mark": {"type": "text", "font": "Liberation Serif", "fontWeight": "bold", "fontSize": 15, "dy": 5, "align": "left", "baseline": "alphabetic", "color": "black"},
          "encoding": {"text": {"field": "s"}}
        },
        {
          "data": {"name": "txt"},
          "transform": [{"filter": "datum.k == 'fq'"}],
          "mark": {"type": "text", "font": "Liberation Sans", "fontSize": 19, "align": "center", "baseline": "alphabetic", "color": "black"},
          "encoding": {"text": {"field": "s"}}
        }
      ]
    },
    {
      "encoding": {
        "x": {"field": "f", "type": "quantitative", "scale": {"domain": [0, 40], "range": [127, 475], "nice": false, "zero": false},
          "axis": {"orient": "bottom", "offset": -451, "values": [0,1,2,3,4,5,6,7,8,9,10,11,12,13,14,15,16,17,18,19,20,21,22,23,24,25,26,27,28,29,30,31,32,33,34,35,36,37,38,39,40],
            "labelExpr": "datum.value % 2 == 0 ? datum.label : ''", "tickSize": {"condition": {"test": "datum.value % 2 == 0", "value": 6}, "value": 3},
            "labelAngle": 0, "title": "freq, GHz", "titlePadding": 20}},
        "y": {"field": "y", "type": "quantitative", "scale": {"domain": [-4.75, 0], "range": [1040, 743], "nice": false, "zero": false},
          "axis": {"orient": "left", "offset": -127, "format": ".2f",
            "values": [-4.75,-4.625,-4.5,-4.375,-4.25,-4.125,-4,-3.875,-3.75,-3.625,-3.5,-3.375,-3.25,-3.125,-3,-2.875,-2.75,-2.625,-2.5,-2.375,-2.25,-2.125,-2,-1.875,-1.75,-1.625,-1.5,-1.375,-1.25,-1.125,-1,-0.875,-0.75,-0.625,-0.5,-0.375,-0.25,-0.125,0],
            "labelExpr": "round(datum.value*8) % 2 == 0 ? datum.label : ''", "tickSize": {"condition": {"test": "round(datum.value*8) % 2 == 0", "value": 6}, "value": 3},
            "title": ["dB(S(7,7))", "dB(S(9,9))", "dB(S(1,1))"], "titlePadding": 16}}
      },
      "layer": [
        {
          "data": {"name": "pan"},
          "transform": [{"filter": "datum.n == 1 && datum.q == 'db'"}, {"fold": ["mes", "em", "ref"], "as": ["tr", "y"]}, {"filter": "isValid(datum.y)"}],
          "mark": {"type": "line", "strokeWidth": 1, "interpolate": "monotone"},
          "encoding": {"color": {"field": "tr", "type": "nominal", "scale": {"domain": ["ref", "em", "mes"], "range": ["#9a9a9a", "#6a6a6a", "#1a1a1a"]}, "legend": null}}
        },
        {
          "data": {"name": "ann"},
          "transform": [{"filter": "datum.n == 1"}],
          "mark": {"type": "point", "shape": "M-2.1,0A2.1,1.2,0,1,1,2.1,0A2.1,1.2,0,1,1,-2.1,0Z", "size": 400, "filled": false, "color": "black", "strokeWidth": 2, "opacity": 1}
        },
        {
          "data": {"name": "ann"},
          "transform": [{"filter": "datum.n == 1"}],
          "mark": {"type": "point", "size": 400, "filled": true, "color": "black", "opacity": 1},
          "encoding": {"shape": {"field": "d", "type": "nominal", "scale": {"domain": ["L", "R"], "range": ["M-2.1,-0.14L-7.1,-0.14L-7.1,-0.72L-9.3,0L-7.1,0.72L-7.1,0.14L-2.1,0.14Z", "M2.1,-0.14L7.1,-0.14L7.1,-0.72L9.3,0L7.1,0.72L7.1,0.14L2.1,0.14Z"]}, "legend": null}}
        }
      ]
    },
    {
      "data": {"name": "pan"},
      "transform": [{"filter": "datum.n == 1 && datum.q == 'ph'"}, {"fold": ["mes", "em", "ref"], "as": ["tr", "y"]}, {"filter": "isValid(datum.y)"}],
      "mark": {"type": "line", "strokeWidth": 1, "interpolate": "monotone"},
      "encoding": {
        "x": {"field": "f", "type": "quantitative", "scale": {"domain": [0, 40], "range": [127, 475], "nice": false, "zero": false},
          "axis": {"orient": "top", "offset": -743, "labels": false, "ticks": false, "title": null}},
        "y": {"field": "y", "type": "quantitative", "scale": {"domain": [-180, 10], "range": [1040, 743], "nice": false, "zero": false},
          "axis": {"orient": "right", "offset": -653,
            "values": [-180,-175,-170,-165,-160,-155,-150,-145,-140,-135,-130,-125,-120,-115,-110,-105,-100,-95,-90,-85,-80,-75,-70,-65,-60,-55,-50,-45,-40,-35,-30,-25,-20,-15,-10,-5,0,5,10],
            "labelExpr": "datum.value % 10 == 0 ? datum.label : ''", "tickSize": {"condition": {"test": "datum.value % 10 == 0", "value": 6}, "value": 3},
            "title": ["phase(S(7,7))", "phase(S(9,9))", "phase(S(1,1))"], "titlePadding": 16}},
        "color": {"field": "tr", "type": "nominal", "scale": {"domain": ["ref", "em", "mes"], "range": ["#9a9a9a", "#6a6a6a", "#1a1a1a"]}, "legend": null}
      }
    },
    {
      "encoding": {
        "x": {"field": "f", "type": "quantitative", "scale": {"domain": [0, 40], "range": [684, 1030], "nice": false, "zero": false},
          "axis": {"orient": "bottom", "offset": -451, "values": [0,1,2,3,4,5,6,7,8,9,10,11,12,13,14,15,16,17,18,19,20,21,22,23,24,25,26,27,28,29,30,31,32,33,34,35,36,37,38,39,40],
            "labelExpr": "datum.value % 2 == 0 ? datum.label : ''", "tickSize": {"condition": {"test": "datum.value % 2 == 0", "value": 6}, "value": 3},
            "labelAngle": 90, "title": "freq, GHz", "titlePadding": 14}},
        "y": {"field": "y", "type": "quantitative", "scale": {"domain": [-39, -17], "range": [1040, 740], "nice": false, "zero": false},
          "axis": {"orient": "left", "offset": -684,
            "values": [-39,-38,-37,-36,-35,-34,-33,-32,-31,-30,-29,-28,-27,-26,-25,-24,-23,-22,-21,-20,-19,-18,-17],
            "labelExpr": "abs(datum.value) % 2 == 1 ? datum.label : ''", "tickSize": {"condition": {"test": "abs(datum.value) % 2 == 1", "value": 6}, "value": 3},
            "title": ["dB(S(7,8))", "dB(S(9,10))", "dB(S(1,2))"], "titlePadding": 16}}
      },
      "layer": [
        {
          "data": {"name": "pan"},
          "transform": [{"filter": "datum.n == 2 && datum.q == 'db'"}, {"fold": ["mes", "em", "ref"], "as": ["tr", "y"]}, {"filter": "isValid(datum.y)"}],
          "mark": {"type": "line", "strokeWidth": 1, "interpolate": "monotone"},
          "encoding": {"color": {"field": "tr", "type": "nominal", "scale": {"domain": ["ref", "em", "mes"], "range": ["#9a9a9a", "#6a6a6a", "#1a1a1a"]}, "legend": null}}
        },
        {
          "data": {"name": "ann"},
          "transform": [{"filter": "datum.n == 2"}],
          "mark": {"type": "point", "shape": "M-2.1,0A2.1,1.2,0,1,1,2.1,0A2.1,1.2,0,1,1,-2.1,0Z", "size": 400, "filled": false, "color": "black", "strokeWidth": 2, "opacity": 1}
        },
        {
          "data": {"name": "ann"},
          "transform": [{"filter": "datum.n == 2"}],
          "mark": {"type": "point", "size": 400, "filled": true, "color": "black", "opacity": 1},
          "encoding": {"shape": {"field": "d", "type": "nominal", "scale": {"domain": ["L", "R"], "range": ["M-2.1,-0.14L-7.1,-0.14L-7.1,-0.72L-9.3,0L-7.1,0.72L-7.1,0.14L-2.1,0.14Z", "M2.1,-0.14L7.1,-0.14L7.1,-0.72L9.3,0L7.1,0.72L7.1,0.14L2.1,0.14Z"]}, "legend": null}}
        }
      ]
    },
    {
      "data": {"name": "pan"},
      "transform": [{"filter": "datum.n == 2 && datum.q == 'ph'"}, {"fold": ["mes", "em", "ref"], "as": ["tr", "y"]}, {"filter": "isValid(datum.y)"}],
      "mark": {"type": "line", "strokeWidth": 1, "interpolate": "monotone"},
      "encoding": {
        "x": {"field": "f", "type": "quantitative", "scale": {"domain": [0, 40], "range": [684, 1030], "nice": false, "zero": false},
          "axis": {"orient": "top", "offset": -740, "labels": false, "ticks": false, "title": null}},
        "y": {"field": "y", "type": "quantitative", "scale": {"domain": [-5, 90], "range": [1040, 740], "nice": false, "zero": false},
          "axis": {"orient": "right", "offset": -98,
            "values": [-5,-2.5,0,2.5,5,7.5,10,12.5,15,17.5,20,22.5,25,27.5,30,32.5,35,37.5,40,42.5,45,47.5,50,52.5,55,57.5,60,62.5,65,67.5,70,72.5,75,77.5,80,82.5,85,87.5,90],
            "labelExpr": "datum.value % 5 == 0 ? datum.label : ''", "tickSize": {"condition": {"test": "datum.value % 5 == 0", "value": 6}, "value": 3},
            "title": ["phase(S(7,8))", "phase(S(9,10))", "phase(S(1,2))"], "titlePadding": 16}},
        "color": {"field": "tr", "type": "nominal", "scale": {"domain": ["ref", "em", "mes"], "range": ["#9a9a9a", "#6a6a6a", "#1a1a1a"]}, "legend": null}
      }
    },
    {
      "encoding": {
        "x": {"field": "f", "type": "quantitative", "scale": {"domain": [0, 40], "range": [122, 447], "nice": false, "zero": false},
          "axis": {"orient": "bottom", "offset": -71, "values": [0,1,2,3,4,5,6,7,8,9,10,11,12,13,14,15,16,17,18,19,20,21,22,23,24,25,26,27,28,29,30,31,32,33,34,35,36,37,38,39,40],
            "labelExpr": "datum.value % 2 == 0 ? datum.label : ''", "tickSize": {"condition": {"test": "datum.value % 2 == 0", "value": 6}, "value": 3},
            "labelAngle": 90, "title": "freq, GHz", "titlePadding": 18}},
        "y": {"field": "y", "type": "quantitative", "scale": {"domain": [-2.8, 0], "range": [1420, 1103], "nice": false, "zero": false},
          "axis": {"orient": "left", "offset": -122, "format": ".1f",
            "values": [-2.8,-2.7,-2.6,-2.5,-2.4,-2.3,-2.2,-2.1,-2,-1.9,-1.8,-1.7,-1.6,-1.5,-1.4,-1.3,-1.2,-1.1,-1,-0.9,-0.8,-0.7,-0.6,-0.5,-0.4,-0.3,-0.2,-0.1,0],
            "labelExpr": "abs(round(datum.value*10)) % 2 == 0 ? datum.label : ''", "tickSize": {"condition": {"test": "abs(round(datum.value*10)) % 2 == 0", "value": 6}, "value": 3},
            "title": ["dB(S(8,8))", "dB(S(10,10))", "dB(S(2,2))"], "titlePadding": 16}}
      },
      "layer": [
        {
          "data": {"name": "pan"},
          "transform": [{"filter": "datum.n == 3 && datum.q == 'db'"}, {"fold": ["mes", "em", "ref"], "as": ["tr", "y"]}, {"filter": "isValid(datum.y)"}],
          "mark": {"type": "line", "strokeWidth": 1, "interpolate": "monotone"},
          "encoding": {"color": {"field": "tr", "type": "nominal", "scale": {"domain": ["ref", "em", "mes"], "range": ["#9a9a9a", "#6a6a6a", "#1a1a1a"]}, "legend": null}}
        },
        {
          "data": {"name": "ann"},
          "transform": [{"filter": "datum.n == 3"}],
          "mark": {"type": "point", "shape": "M-2.1,0A2.1,1.2,0,1,1,2.1,0A2.1,1.2,0,1,1,-2.1,0Z", "size": 400, "filled": false, "color": "black", "strokeWidth": 2, "opacity": 1}
        },
        {
          "data": {"name": "ann"},
          "transform": [{"filter": "datum.n == 3"}],
          "mark": {"type": "point", "size": 400, "filled": true, "color": "black", "opacity": 1},
          "encoding": {"shape": {"field": "d", "type": "nominal", "scale": {"domain": ["L", "R"], "range": ["M-2.1,-0.14L-7.1,-0.14L-7.1,-0.72L-9.3,0L-7.1,0.72L-7.1,0.14L-2.1,0.14Z", "M2.1,-0.14L7.1,-0.14L7.1,-0.72L9.3,0L7.1,0.72L7.1,0.14L2.1,0.14Z"]}, "legend": null}}
        }
      ]
    },
    {
      "data": {"name": "pan"},
      "transform": [{"filter": "datum.n == 3 && datum.q == 'ph'"}, {"fold": ["mes", "em", "ref"], "as": ["tr", "y"]}, {"filter": "isValid(datum.y)"}],
      "mark": {"type": "line", "strokeWidth": 1, "interpolate": "monotone"},
      "encoding": {
        "x": {"field": "f", "type": "quantitative", "scale": {"domain": [0, 40], "range": [122, 447], "nice": false, "zero": false},
          "axis": {"orient": "top", "offset": -1103, "labels": false, "ticks": false, "title": null}},
        "y": {"field": "y", "type": "quantitative", "scale": {"domain": [-100, 0], "range": [1420, 1103], "nice": false, "zero": false},
          "axis": {"orient": "right", "offset": -681,
            "values": [-100,-97.5,-95,-92.5,-90,-87.5,-85,-82.5,-80,-77.5,-75,-72.5,-70,-67.5,-65,-62.5,-60,-57.5,-55,-52.5,-50,-47.5,-45,-42.5,-40,-37.5,-35,-32.5,-30,-27.5,-25,-22.5,-20,-17.5,-15,-12.5,-10,-7.5,-5,-2.5,0],
            "labelExpr": "datum.value % 5 == 0 ? datum.label : ''", "tickSize": {"condition": {"test": "datum.value % 5 == 0", "value": 6}, "value": 3},
            "title": ["phase(S(8,8))", "phase(S(10,10))", "phase(S(2,2))"], "titlePadding": 16}},
        "color": {"field": "tr", "type": "nominal", "scale": {"domain": ["ref", "em", "mes"], "range": ["#9a9a9a", "#6a6a6a", "#1a1a1a"]}, "legend": null}
      }
    },
    {
      "encoding": {
        "x": {"field": "f", "type": "quantitative", "scale": {"domain": [0, 40], "range": [677, 1022], "nice": false, "zero": false},
          "axis": {"orient": "bottom", "offset": -71, "values": [0,1,2,3,4,5,6,7,8,9,10,11,12,13,14,15,16,17,18,19,20,21,22,23,24,25,26,27,28,29,30,31,32,33,34,35,36,37,38,39,40],
            "labelExpr": "datum.value % 2 == 0 ? datum.label : ''", "tickSize": {"condition": {"test": "datum.value % 2 == 0", "value": 6}, "value": 3},
            "labelAngle": 0, "labelFontSize": 11, "title": "freq, GHz", "titlePadding": 22}},
        "y": {"field": "y", "type": "quantitative", "scale": {"domain": [-8, 12], "range": [1420, 1103], "nice": false, "zero": false},
          "axis": {"orient": "left", "offset": -677, "format": "d",
            "values": [-8,-7.5,-7,-6.5,-6,-5.5,-5,-4.5,-4,-3.5,-3,-2.5,-2,-1.5,-1,-0.5,0,0.5,1,1.5,2,2.5,3,3.5,4,4.5,5,5.5,6,6.5,7,7.5,8,8.5,9,9.5,10,10.5,11,11.5,12],
            "labelExpr": "datum.value % 1 == 0 ? datum.label : ''", "tickSize": {"condition": {"test": "datum.value % 1 == 0", "value": 6}, "value": 3},
            "title": ["dB(S(8,7))", "dB(S(10,9))", "dB(S(2,1))"], "titlePadding": 16}}
      },
      "layer": [
        {
          "data": {"name": "pan"},
          "transform": [{"filter": "datum.n == 4 && datum.q == 'db'"}, {"fold": ["mes", "em", "ref"], "as": ["tr", "y"]}, {"filter": "isValid(datum.y)"}],
          "mark": {"type": "line", "strokeWidth": 1, "interpolate": "monotone"},
          "encoding": {"color": {"field": "tr", "type": "nominal", "scale": {"domain": ["ref", "em", "mes"], "range": ["#9a9a9a", "#6a6a6a", "#1a1a1a"]}, "legend": null}}
        },
        {
          "data": {"name": "ann"},
          "transform": [{"filter": "datum.n == 4"}],
          "mark": {"type": "point", "shape": "M-2.1,0A2.1,1.2,0,1,1,2.1,0A2.1,1.2,0,1,1,-2.1,0Z", "size": 400, "filled": false, "color": "black", "strokeWidth": 2, "opacity": 1}
        },
        {
          "data": {"name": "ann"},
          "transform": [{"filter": "datum.n == 4"}],
          "mark": {"type": "point", "size": 400, "filled": true, "color": "black", "opacity": 1},
          "encoding": {"shape": {"field": "d", "type": "nominal", "scale": {"domain": ["L", "R"], "range": ["M-2.1,-0.14L-7.1,-0.14L-7.1,-0.72L-9.3,0L-7.1,0.72L-7.1,0.14L-2.1,0.14Z", "M2.1,-0.14L7.1,-0.14L7.1,-0.72L9.3,0L7.1,0.72L7.1,0.14L2.1,0.14Z"]}, "legend": null}}
        }
      ]
    },
    {
      "data": {"name": "pan"},
      "transform": [{"filter": "datum.n == 4 && datum.q == 'ph'"}, {"fold": ["mes", "em", "ref"], "as": ["tr", "y"]}, {"filter": "isValid(datum.y)"}],
      "mark": {"type": "line", "strokeWidth": 1, "interpolate": "monotone"},
      "encoding": {
        "x": {"field": "f", "type": "quantitative", "scale": {"domain": [0, 40], "range": [677, 1022], "nice": false, "zero": false},
          "axis": {"orient": "top", "offset": -1103, "labels": false, "ticks": false, "title": null}},
        "y": {"field": "y", "type": "quantitative", "scale": {"domain": [5, 175], "range": [1420, 1103], "nice": false, "zero": false},
          "axis": {"orient": "right", "offset": -106,
            "values": [5,10,15,20,25,30,35,40,45,50,55,60,65,70,75,80,85,90,95,100,105,110,115,120,125,130,135,140,145,150,155,160,165,170,175],
            "labelExpr": "(datum.value - 5) % 10 == 0 ? datum.label : ''", "tickSize": {"condition": {"test": "(datum.value - 5) % 10 == 0", "value": 6}, "value": 3},
            "title": ["phase(S(8,7))", "phase(S(10,9))", "phase(S(2,1))"], "titlePadding": 16}},
        "color": {"field": "tr", "type": "nominal", "scale": {"domain": ["ref", "em", "mes"], "range": ["#9a9a9a", "#6a6a6a", "#1a1a1a"]}, "legend": null}
      }
    }
  ],
  "resolve": {
    "scale": {"x": "independent", "y": "independent"},
    "axis": {"x": "independent", "y": "independent"}
  },
  "config": {
    "view": {"stroke": "black", "strokeWidth": 4},
    "locale": {"number": {"decimal": ".", "thousands": ",", "grouping": [3], "currency": ["", ""], "minus": "-"}},
    "axis": {
      "domainColor": "black", "tickColor": "black", "labelColor": "black", "titleColor": "black",
      "labelFont": "Liberation Sans", "titleFont": "Liberation Sans", "labelFontSize": 12, "titleFontSize": 13,
      "titleFontWeight": "normal", "grid": false, "labelFlush": false, "labelOverlap": false, "labelPadding": 2,
      "titleLineHeight": 13, "domainWidth": 1, "tickWidth": 1
    }
  }
}
